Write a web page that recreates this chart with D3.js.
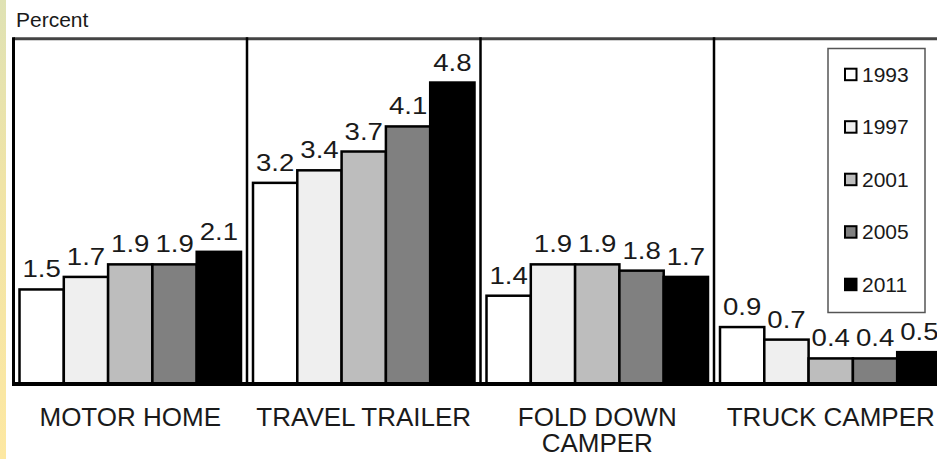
<!DOCTYPE html>
<html>
<head>
<meta charset="utf-8">
<script src="https://cdn.jsdelivr.net/npm/d3@7"></script>
<style>
    body { margin: 0; background: #fff; }
    text { font-family: "Liberation Sans", Arial, sans-serif; fill: #1a1a1a; }
</style>
</head>
<body>
<div id="chart"></div>
<script>
// data
let categories = ["MOTOR HOME", "TRAVEL TRAILER", "FOLD DOWN|CAMPER", "TRUCK CAMPER"];
let years = ["1993", "1997", "2001", "2005", "2011"];
let v1993 = [1.5, 3.2, 1.4, 0.9];
let v1997 = [1.7, 3.4, 1.9, 0.7];
let v2001 = [1.9, 3.7, 1.9, 0.4];
let v2005 = [1.9, 4.1, 1.8, 0.4];
let v2011 = [2.1, 4.8, 1.7, 0.5];
let fills = ["#ffffff", "#efefef", "#bdbdbd", "#808080", "#000000"];

let series = [v1993, v1997, v2001, v2005, v2011];

let width = 937;
let height = 459;
let svg = d3.select("#chart")
    .append("svg")
    .attr("width", width)
    .attr("height", height);

// yellow strip on the left edge
let grad = svg.append("defs").append("linearGradient")
    .attr("id", "strip")
    .attr("x1", 0).attr("y1", 0).attr("x2", 0).attr("y2", 1);
grad.append("stop").attr("offset", "0%").attr("stop-color", "#dfe2b4");
grad.append("stop").attr("offset", "40%").attr("stop-color", "#f0e4a6");
grad.append("stop").attr("offset", "100%").attr("stop-color", "#fde8a2");
svg.append("rect")
    .attr("x", 0).attr("y", 0)
    .attr("width", 6).attr("height", height)
    .attr("fill", "url(#strip)");

let plotLeft = 13.5;
let bandW = 233.5;
let baseY = 383.5;

let x0 = d3.scaleBand()
    .domain(categories)
    .range([plotLeft, plotLeft + bandW * categories.length]);
let x1 = d3.scaleBand()
    .domain(years)
    .range([6, 227.5]);
let y = d3.scaleLinear()
    .domain([0, 5.5])
    .range([baseY, baseY - 5.5 * 62.7]);

// title
svg.append("text")
    .attr("x", 16)
    .attr("y", 26.5)
    .attr("font-size", "21px")
    .text("Percent");

// bars
let groups = svg.selectAll("g.cat")
    .data(categories)
    .enter()
    .append("g")
    .attr("class", "cat")
    .attr("transform", d => "translate(" + x0(d) + ",0)");

groups.selectAll("rect")
    .data((d, ci) => years.map((yr, si) => ({ yr: yr, v: series[si][ci], fill: fills[si] })))
    .enter()
    .append("rect")
    .attr("x", d => x1(d.yr))
    .attr("y", d => y(d.v))
    .attr("width", x1.bandwidth())
    .attr("height", d => baseY - y(d.v))
    .attr("fill", d => d.fill)
    .attr("stroke", "#000")
    .attr("stroke-width", 2.5);

// value labels (a bit wide in the original)
groups.selectAll("text.val")
    .data((d, ci) => years.map((yr, si) => ({ yr: yr, v: series[si][ci] })))
    .enter()
    .append("text")
    .attr("class", "val")
    .attr("font-size", "23px")
    .attr("text-anchor", "middle")
    .attr("transform", d => "translate(" + (x1(d.yr) + x1.bandwidth() / 2) + "," + (y(d.v) - 12) + ") scale(1.2,1)")
    .text(d => d3.format(".1f")(d.v));

// frame: top, left, dividers, baseline
let topY = y(5.5);
svg.append("line")
    .attr("x1", plotLeft).attr("x2", width)
    .attr("y1", topY).attr("y2", topY)
    .attr("stroke", "#444").attr("stroke-width", 3);
svg.selectAll("line.div")
    .data(categories)
    .enter()
    .append("line")
    .attr("class", "div")
    .attr("x1", d => x0(d)).attr("x2", d => x0(d))
    .attr("y1", topY - 1.5).attr("y2", baseY)
    .attr("stroke", "#000")
    .attr("stroke-width", (d, i) => i === 0 ? 3 : 2.5);
svg.append("line")
    .attr("x1", plotLeft - 1.5).attr("x2", width)
    .attr("y1", baseY + 0.5).attr("y2", baseY + 0.5)
    .attr("stroke", "#000").attr("stroke-width", 4);

// category labels
groups.append("text")
    .attr("x", bandW / 2)
    .attr("y", 426)
    .attr("font-size", "26px")
    .attr("text-anchor", "middle")
    .selectAll("tspan")
    .data(d => d.split("|"))
    .enter()
    .append("tspan")
    .attr("x", bandW / 2)
    .attr("dy", (d, i) => i === 0 ? 0 : 26)
    .text(d => d);

// legend
let legend = svg.append("g");
legend.append("rect")
    .attr("x", 828).attr("y", 48.5)
    .attr("width", 97).attr("height", 264)
    .attr("fill", "#fff")
    .attr("stroke", "#555")
    .attr("stroke-width", 1.5);

let items = legend.selectAll("g.item")
    .data(years)
    .enter()
    .append("g")
    .attr("class", "item")
    .attr("transform", (d, i) => "translate(0," + (81.7 + i * 52.5) + ")");
items.append("rect")
    .attr("x", 845).attr("y", -13)
    .attr("width", 11.5).attr("height", 11.5)
    .attr("fill", (d, i) => fills[i])
    .attr("stroke", "#000")
    .attr("stroke-width", 2);
items.append("text")
    .attr("x", 862)
    .attr("y", 0)
    .attr("font-size", "21px")
    .text(d => d);
</script>
</body>
</html>
